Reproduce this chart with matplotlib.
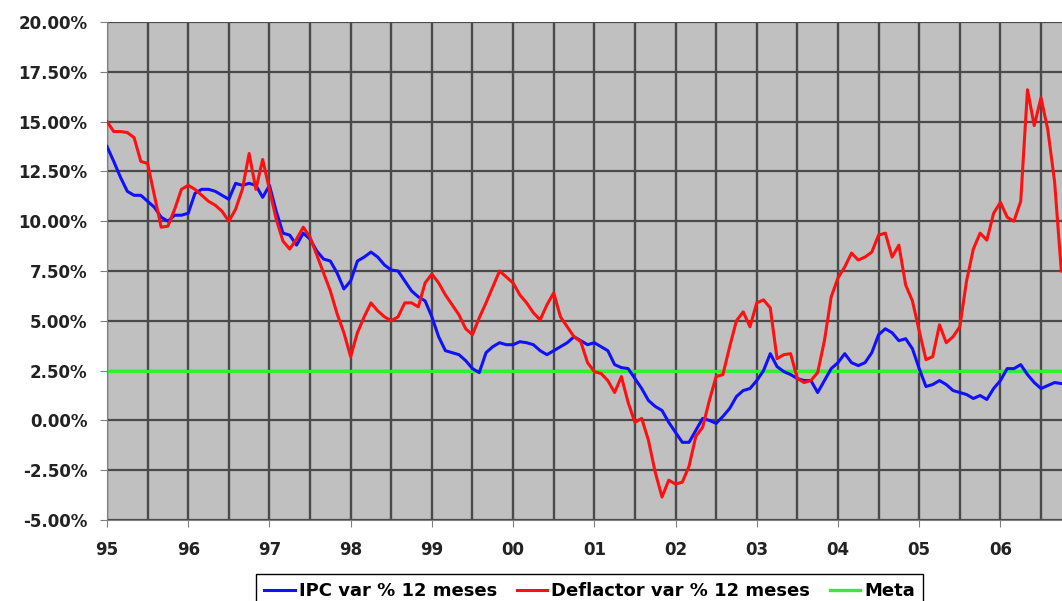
import matplotlib
matplotlib.use("Agg")
import matplotlib.pyplot as plt
import numpy as np

plt.rcParams['font.family'] = ['DejaVu Sans']

year_labels = ["95", "96", "97", "98", "99", "00", "01", "02", "03", "04", "05", "06"]

ipc = [13.75, 13.0, 12.2, 11.5, 11.3, 11.3, 11.0, 10.7, 10.2, 10.0, 10.3, 10.3,
       10.4, 11.4, 11.6, 11.6, 11.5, 11.3, 11.1, 11.9, 11.8, 11.9, 11.8, 11.2,
       11.8, 10.5, 9.4, 9.3, 8.8, 9.4, 9.1, 8.5, 8.1, 8.0, 7.4, 6.6,
       7.0, 8.0, 8.2, 8.45, 8.2, 7.8, 7.55, 7.5, 7.0, 6.5, 6.2, 6.0,
       5.2, 4.2, 3.5, 3.4, 3.3, 3.0, 2.6, 2.4, 3.4, 3.7, 3.9, 3.8,
       3.8, 3.95, 3.9, 3.8, 3.5, 3.3, 3.5, 3.7, 3.9, 4.2, 4.0, 3.8,
       3.9, 3.7, 3.5, 2.8, 2.65, 2.6, 2.1, 1.6, 1.0, 0.7, 0.5, -0.1,
       -0.6, -1.1, -1.1, -0.5, 0.1, 0.0, -0.15, 0.2, 0.6, 1.2, 1.5, 1.6,
       2.0, 2.5, 3.35, 2.7, 2.45, 2.3, 2.1, 2.0, 2.0, 1.4, 2.0, 2.6,
       2.9, 3.35, 2.9, 2.75, 2.9, 3.4, 4.3, 4.6, 4.4, 4.0, 4.1, 3.6,
       2.6, 1.7, 1.8, 2.0, 1.8, 1.5, 1.4, 1.3, 1.1, 1.25, 1.05, 1.6,
       2.0, 2.6, 2.6, 2.8, 2.3, 1.9, 1.6, 1.75, 1.9, 1.85]

deflactor = [15.0, 14.5, 14.5, 14.45, 14.2, 13.0, 12.9, 11.3, 9.7, 9.75, 10.6, 11.6,
             11.8, 11.6, 11.3, 11.0, 10.8, 10.5, 10.0, 10.6, 11.6, 13.4, 11.6, 13.1,
             11.6, 10.1, 9.0, 8.6, 9.1, 9.7, 9.2, 8.3, 7.4, 6.5, 5.35, 4.4,
             3.2, 4.4, 5.2, 5.9, 5.5, 5.2, 5.0, 5.2, 5.9, 5.9, 5.7, 6.9,
             7.35, 6.9, 6.3, 5.8, 5.3, 4.6, 4.3, 5.15, 5.9, 6.7, 7.5, 7.2,
             6.9, 6.3, 5.9, 5.4, 5.05, 5.8, 6.4, 5.2, 4.7, 4.2, 3.95, 2.9,
             2.45, 2.35, 2.0, 1.4, 2.2, 0.9, -0.1, 0.1, -1.0, -2.6, -3.85, -3.0,
             -3.2, -3.1, -2.3, -0.8, -0.35, 1.0, 2.2, 2.3, 3.7, 5.0, 5.45, 4.7,
             5.9, 6.05, 5.65, 3.1, 3.3, 3.35, 2.1, 1.9, 2.0, 2.4, 4.0, 6.2,
             7.15, 7.7, 8.4, 8.05, 8.2, 8.45, 9.3, 9.4, 8.2, 8.8, 6.8, 6.0,
             4.5, 3.05, 3.2, 4.8, 3.9, 4.2, 4.7, 7.0, 8.6, 9.4, 9.05, 10.4,
             10.95, 10.2, 10.0, 11.0, 16.6, 14.8, 16.2, 14.6, 12.0, 7.5]

meta = 2.5

months = np.arange(len(ipc))

fig = plt.figure(figsize=(10.62, 6.01), dpi=100)
ax = fig.add_axes([107/1062, 1-520/601, 1-107/1062, (520-22)/601])
ax.set_facecolor('#C0C0C0')

ax.set_xlim(0, 141.1)
ax.set_ylim(-5, 20)

ax.set_xticks(np.arange(0, 12*len(year_labels), 12))
ax.set_xticklabels(year_labels)
ax.set_xticks(np.arange(6, 142, 12), minor=True)
yt = np.arange(-5, 20.01, 2.5)
ax.set_yticks(yt)
ax.set_yticklabels([f"{v:.2f}%" for v in yt])

ax.grid(True, which='both', axis='x', color='#4a4a4a', linewidth=1.7)
ax.grid(True, which='major', axis='y', color='#4a4a4a', linewidth=1.6)
ax.set_axisbelow(True)

ax.plot(months, ipc, color='#1010FF', lw=2.2, label='IPC var % 12 meses', zorder=3)
ax.plot(months, deflactor, color='#FF1010', lw=2.2, label='Deflactor var % 12 meses', zorder=3)
ax.axhline(meta, color='#33EE33', lw=2.4, label='Meta', zorder=2)

for s in ['top', 'right']:
    ax.spines[s].set_visible(False)
ax.spines['bottom'].set_color('#808080')
ax.spines['left'].set_color('#808080')

ax.tick_params(axis='x', which='major', length=5, color='#808080', pad=10, labelsize=12)
ax.tick_params(axis='x', which='minor', length=0)
ax.tick_params(axis='y', length=5, color='#808080', pad=9, labelsize=12)
for lbl in ax.get_xticklabels() + ax.get_yticklabels():
    lbl.set_fontweight('bold')
    lbl.set_color('#222222')

leg = fig.legend(loc='upper center', bbox_to_anchor=(589.5/1062, 1-574/601), ncol=3,
                 frameon=True, fancybox=False, edgecolor='black', framealpha=1,
                 prop={'weight': 'bold', 'size': 13}, handlelength=1.7,
                 handletextpad=0.2, columnspacing=1.1, borderpad=0.45,
                 borderaxespad=0)
leg.get_frame().set_linewidth(1.0)

fig.savefig('out.png', dpi=100)
